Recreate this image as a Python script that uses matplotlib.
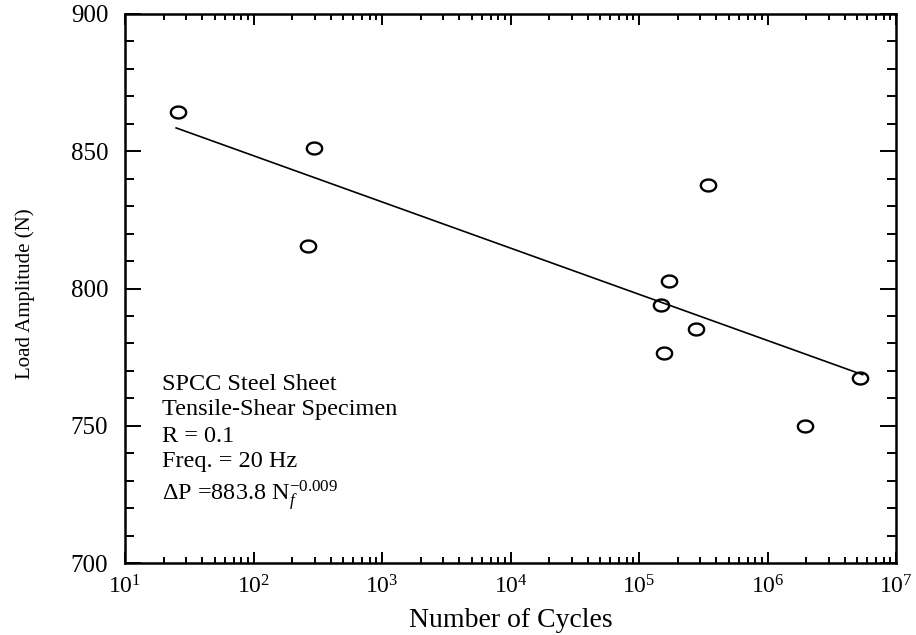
import numpy as np
import matplotlib
matplotlib.use("Agg")
import matplotlib.pyplot as plt
from matplotlib.path import Path
from matplotlib.ticker import FixedLocator, MultipleLocator, LogFormatterMathtext

plt.rcParams['font.family'] = ['Liberation Serif', 'DejaVu Serif']
plt.rcParams['mathtext.fontset'] = 'custom'
plt.rcParams['mathtext.rm'] = 'Liberation Serif'
plt.rcParams['mathtext.it'] = 'Liberation Serif:italic'
plt.rcParams['mathtext.bf'] = 'Liberation Serif:bold'

# data
cycles = [25.8, 296, 265, 344000, 171000, 148000, 278000, 157000, 5.25e6, 1.96e6]
load = [864.3, 851.2, 815.5, 837.7, 802.7, 794.0, 785.2, 776.5, 767.4, 749.9]
fit_cycles = [25, 5.5e6]
fit_load = [858.5, 768.6]
ytick_vals = [700, 750, 800, 850, 900]
xtick_vals = [1e1, 1e2, 1e3, 1e4, 1e5, 1e6, 1e7]
annot_lines = ["SPCC Steel Sheet", "Tensile-Shear Specimen", "R = 0.1", "Freq. = 20 Hz"]
eq_text = r"$\Delta$P =883.8 N$_{f}^{-0.009}$"

fig = plt.figure(figsize=(9.16, 6.35), dpi=100)
ax = fig.add_axes([125/916, 1-563/635, (896-125)/916, (563-14)/635])

# elliptical open marker
t = np.linspace(0, 2*np.pi, 60)
ell = Path(np.column_stack([np.cos(t), 0.78*np.sin(t)]), closed=True)

ax.plot(fit_cycles, fit_load, color='black', lw=1.2)
ax.plot(cycles, load, linestyle='none', marker=ell, markersize=11,
        markerfacecolor='none', markeredgecolor='black', markeredgewidth=1.7)

ax.set_xscale('log')
ax.set_xlim(10, 1e7)
ax.set_ylim(700, 900)
ax.set_yticks(ytick_vals)
ax.yaxis.set_minor_locator(MultipleLocator(10))
ax.xaxis.set_major_locator(FixedLocator(xtick_vals))
minor = [m * d for d in xtick_vals[:-1] for m in range(2, 10)]
ax.xaxis.set_minor_locator(FixedLocator(minor))
ax.xaxis.set_major_formatter(LogFormatterMathtext())

for s in ax.spines.values():
    s.set_linewidth(1.8)

ax.tick_params(axis='both', which='both', direction='in', top=True, right=True,
               width=1.4, colors='black')
ax.tick_params(axis='y', which='major', length=11.5, pad=12, labelsize=18)
ax.tick_params(axis='y', which='minor', length=6.5)
ax.tick_params(axis='x', which='major', length=8, pad=9, labelsize=17)
ax.tick_params(axis='x', which='minor', length=4.5)

ax.set_xlabel("Number of Cycles", fontsize=20, labelpad=7)
ax.set_ylabel("Load Amplitude (N)", fontsize=15)
ax.yaxis.set_label_coords((35-125)/771, 0.49)

for i, line in enumerate(annot_lines):
    fig.text(162/916, 1-(384+26*i)/635, line, fontsize=17.5, va='center', ha='left')
fig.text(162/916, 1-496/635, eq_text, fontsize=17.5, va='center', ha='left')

fig.savefig("out.png", dpi=100)
